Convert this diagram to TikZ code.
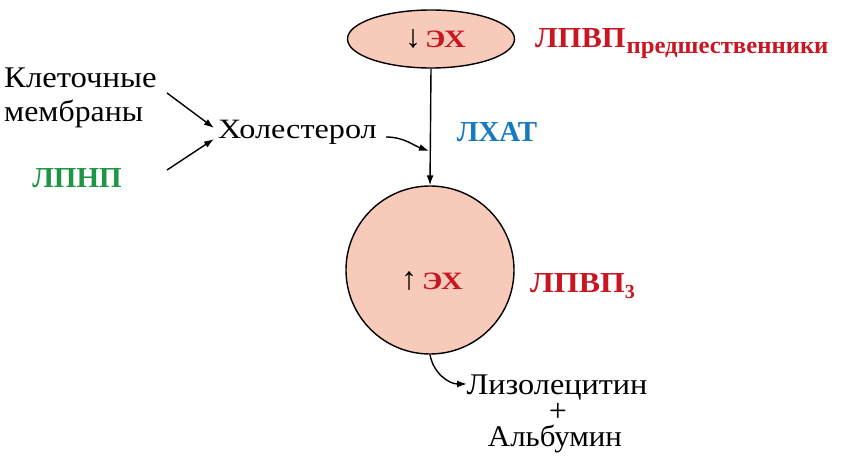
\documentclass[tikz,border=0pt]{standalone}
\usepackage{fontspec}
\usepackage{graphicx}
\setmainfont{Liberation Serif}
\usetikzlibrary{arrows.meta,shapes.geometric}
\definecolor{fillc}{RGB}{248,202,186}
\definecolor{redc}{RGB}{200,22,34}
\definecolor{greenc}{RGB}{30,150,70}
\definecolor{bluec}{RGB}{22,122,190}
\newcommand\wdx[2]{\scalebox{#1}[1]{#2}}
\newcommand\arrsym[1]{{\fontsize{32}{32}\selectfont\bfseries #1}}
\begin{document}
\begin{tikzpicture}[x=1pt,y=-1pt,
  arr/.style={-{Latex[length=10pt,width=7pt]}, line width=1.4pt},
  blob/.style={draw, fill=fillc, line width=1.4pt, inner sep=0pt},
  big/.style={font=\fontsize{25}{27}\selectfont, inner sep=1pt},
  txt/.style={font=\fontsize{30}{32}\selectfont, inner sep=0pt},
  lbl/.style={font=\fontsize{29}{31}\selectfont\bfseries, inner sep=0pt}]
\useasboundingbox (0,0) rectangle (841,457);
% shapes
\node[blob, ellipse, minimum width=167pt, minimum height=58pt] (ell) at (431,39) {};
\node[big, anchor=base west] (ellt) at (404,48) {\arrsym{↓}\hspace{4pt}\textcolor{redc}{\bfseries\wdx{1.2}{ЭХ}}};
\node[blob, circle, minimum size=168pt] (circ) at (430,270) {};
\node[big, anchor=base west] (circt) at (400,290) {\arrsym{↑}\hspace{5pt}\textcolor{redc}{\bfseries\wdx{1.2}{ЭХ}}};
% labels
\node[lbl, text=redc, anchor=base west] (lpvpp) at (535,48) {\wdx{1.05}{ЛПВП}\hspace{1pt}\raisebox{-6pt}{\fontsize{24}{26}\selectfont\wdx{1.03}{предшественники}}};
\node[lbl, text=redc, anchor=base west] (lpvp3) at (530,292) {\wdx{1.1}{ЛПВП}\raisebox{-6pt}{\fontsize{20}{22}\selectfont 3}};
\node[lbl, text=bluec] (lhat) at (497,132) {ЛХАТ};
\node[lbl, text=greenc] (lpnp) at (77,178) {ЛПНП};
\node[txt, anchor=base west] (kl) at (4,88) {\wdx{1.09}{Клеточные}};
\node[txt, anchor=base west] (mem) at (4,122) {\wdx{1.06}{мембраны}};
\node[txt, anchor=base west] (hol) at (218,139) {\fontsize{28}{30}\selectfont\wdx{1.15}{Холестерол}};
\node[txt, anchor=base] (lizo) at (557,394) {\wdx{1.075}{Лизолецитин}};
\node[txt, font=\fontsize{32}{32}\selectfont] (plus) at (558,412) {+};
\node[txt, anchor=base] (alb) at (555,446) {\wdx{1.03}{Альбумин}};
% connector ends
\coordinate (s1) at (167,93);
\coordinate (e1) at (214,128);
\coordinate (s2) at (167,170);
\coordinate (e2) at (214,139);
\coordinate (s3) at (386,137);
\coordinate (vm) at (429,151);
\coordinate (e4) at (467,384);
% connectors
\draw[arr] (ell.south) -- (circ.north);
\draw[arr] (s1) -- (e1);
\draw[arr] (s2) -- (e2);
\draw[arr] (s3) to[out=0,in=160] (vm);
\draw[arr] (circ.south) to[out=-80,in=180] (e4);
\end{tikzpicture}
\end{document}
